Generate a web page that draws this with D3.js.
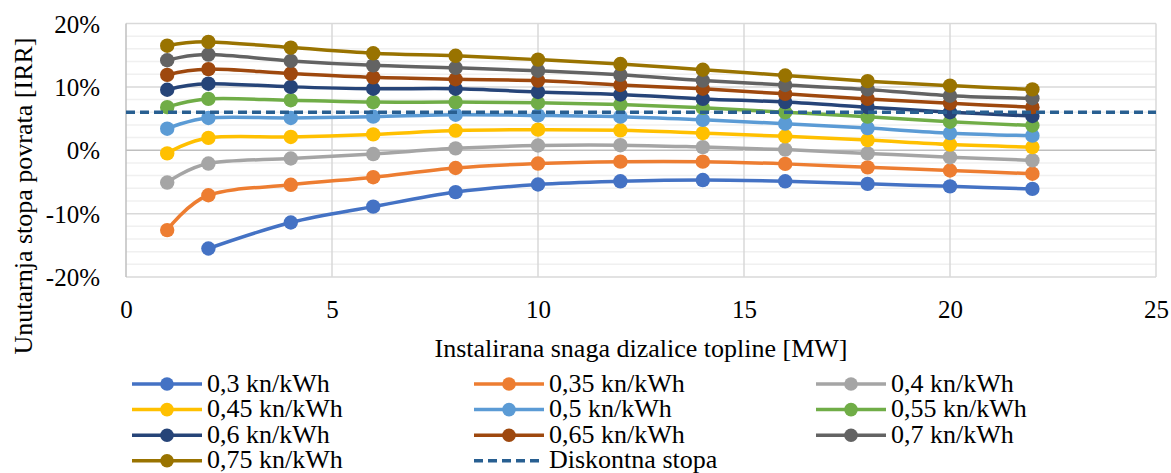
<!DOCTYPE html>
<html>
<head>
<meta charset="utf-8">
<script src="https://cdn.jsdelivr.net/npm/d3@7"></script>
<style>
  html, body { margin: 0; padding: 0; background: #fff; }
  svg { display: block; }
</style>
</head>
<body>
<svg id="chart" width="1171" height="473"></svg>
<script>
// ---- data ----
const xValues = [1, 2, 4, 6, 8, 10, 12, 14, 16, 18, 20, 22];
const seriesNames = ["0,3 kn/kWh", "0,35 kn/kWh", "0,4 kn/kWh", "0,45 kn/kWh", "0,5 kn/kWh",
                     "0,55 kn/kWh", "0,6 kn/kWh", "0,65 kn/kWh", "0,7 kn/kWh", "0,75 kn/kWh"];
const irr030 = [null, -15.5, -11.4, -8.9, -6.6, -5.4, -4.9, -4.7, -4.9, -5.3, -5.7, -6.1];
const irr035 = [-12.6, -7.1, -5.45, -4.25, -2.8, -2.1, -1.8, -1.8, -2.15, -2.7, -3.2, -3.7];
const irr040 = [-5.1, -2.1, -1.3, -0.6, 0.3, 0.75, 0.8, 0.5, 0.1, -0.5, -1.1, -1.6];
const irr045 = [-0.5, 1.95, 2.1, 2.5, 3.1, 3.25, 3.15, 2.7, 2.2, 1.6, 0.9, 0.5];
const irr050 = [3.4, 5.1, 5.1, 5.3, 5.6, 5.5, 5.3, 4.8, 4.2, 3.5, 2.7, 2.3];
const irr055 = [6.8, 8.1, 7.9, 7.6, 7.6, 7.5, 7.2, 6.7, 6.0, 5.3, 4.5, 3.9];
const irr060 = [9.55, 10.5, 10.0, 9.7, 9.7, 9.2, 8.8, 8.1, 7.6, 6.8, 6.0, 5.4];
const irr065 = [11.9, 12.8, 12.1, 11.5, 11.2, 11.0, 10.3, 9.7, 8.9, 8.1, 7.4, 6.8];
const irr070 = [14.2, 15.1, 14.1, 13.4, 13.0, 12.55, 11.9, 11.0, 10.3, 9.6, 8.6, 8.2];
const irr075 = [16.5, 17.1, 16.2, 15.3, 14.9, 14.3, 13.6, 12.7, 11.8, 10.9, 10.2, 9.6];
const seriesValues = [irr030, irr035, irr040, irr045, irr050, irr055, irr060, irr065, irr070, irr075];
const seriesColors = ["#4472C4", "#ED7D31", "#A5A5A5", "#FFC000", "#5B9BD5",
                      "#70AD47", "#264478", "#9E480E", "#636363", "#997300"];
const discountName = "Diskontna stopa";
const discountRate = 6;
const discountX = [0, 25];
const discountColor = "#285F91";
const xTicks = [0, 5, 10, 15, 20, 25];
const yTicks = [-20, -10, 0, 10, 20];
const yMinorTicks = d3.range(-20, 20.01, 2);
const xTitle = "Instalirana snaga dizalice topline [MW]";
const yTitle = "Unutarnja stopa povrata [IRR]";

const FONT = '"Liberation Serif"';

// ---- layout ----
const svg = d3.select("#chart");
const plot = { left: 126, right: 1156, top: 23.5, bottom: 277 };
const x = d3.scaleLinear().domain([0, 25]).range([plot.left, plot.right]);
const y = d3.scaleLinear().domain([-20, 20]).range([plot.bottom, plot.top]);

// minor gridlines
svg.append("g").selectAll("line").data(yMinorTicks.filter(v => v % 10 !== 0)).join("line")
  .attr("x1", plot.left).attr("x2", plot.right)
  .attr("y1", d => y(d)).attr("y2", d => y(d))
  .attr("stroke", "#F0F0F0").attr("stroke-width", 1.5);

// major horizontal gridlines
svg.append("g").selectAll("line").data(yTicks).join("line")
  .attr("x1", plot.left).attr("x2", plot.right)
  .attr("y1", d => y(d)).attr("y2", d => y(d))
  .attr("stroke", d => d === 0 ? "#BFBFBF" : "#D9D9D9").attr("stroke-width", 1.5);

// vertical gridlines
svg.append("g").selectAll("line").data(xTicks).join("line")
  .attr("x1", d => x(d)).attr("x2", d => x(d))
  .attr("y1", plot.top).attr("y2", plot.bottom)
  .attr("stroke", d => d === 0 ? "#BFBFBF" : "#D9D9D9").attr("stroke-width", 1.5);

// axes (labels only, using d3 axis)
const yAxis = d3.axisLeft(y).tickValues(yTicks).tickFormat(d => d + "%").tickSize(0).tickPadding(0);
const gy = svg.append("g").attr("transform", `translate(100,0)`).call(yAxis);
gy.attr("font-family", null).attr("font-size", null);
gy.select(".domain").remove();
gy.selectAll("text").attr("x", 0).attr("dy", "0.34em").attr("fill", "#000")
  .style("font-family", FONT).attr("font-size", 25);

const xAxis = d3.axisBottom(x).tickValues(xTicks).tickFormat(d3.format("d")).tickSize(0).tickPadding(0);
const gx = svg.append("g").attr("transform", `translate(0,${plot.bottom})`).call(xAxis);
gx.attr("font-family", null).attr("font-size", null);
gx.select(".domain").remove();
gx.selectAll("text").attr("y", 41).attr("dy", 0).attr("fill", "#000")
  .style("font-family", FONT).attr("font-size", 25);

// axis titles
svg.append("text").attr("x", (plot.left + plot.right) / 2).attr("y", 357)
  .attr("text-anchor", "middle").style("font-family", FONT).attr("font-size", 26).text(xTitle);
svg.append("text").attr("transform", "translate(32,196) rotate(-90)")
  .attr("text-anchor", "middle").style("font-family", FONT).attr("font-size", 26).text(yTitle);

// series
const line = d3.line()
  .defined(d => d.v !== null)
  .x(d => x(d.x)).y(d => y(d.v))
  .curve(d3.curveCardinal.tension(0));

const gSeries = svg.append("g");
seriesValues.forEach((vals, i) => {
  const pts = xValues.map((xv, j) => ({ x: xv, v: vals[j] }));
  const g = gSeries.append("g");
  g.append("path").datum(pts.filter(p => p.v !== null))
    .attr("d", line).attr("fill", "none")
    .attr("stroke", seriesColors[i]).attr("stroke-width", 3.5)
    .attr("stroke-linejoin", "round").attr("stroke-linecap", "round");
  g.selectAll("circle").data(pts.filter(p => p.v !== null)).join("circle")
    .attr("cx", d => x(d.x)).attr("cy", d => y(d.v)).attr("r", 7.2)
    .attr("fill", seriesColors[i]);
});

// discount rate line
svg.append("line")
  .attr("x1", x(discountX[0])).attr("x2", x(discountX[1]))
  .attr("y1", y(discountRate)).attr("y2", y(discountRate))
  .attr("stroke", discountColor).attr("stroke-width", 3.5)
  .attr("stroke-dasharray", "9,5");

// legend
const legendItems = seriesNames.map((n, i) => ({ name: n, color: seriesColors[i], dashed: false }))
  .concat([{ name: discountName, color: discountColor, dashed: true }]);
const colX = [132, 474, 816];
const rowY = [384, 409.6, 435.2, 460.8];
const lg = svg.append("g");
legendItems.forEach((it, i) => {
  const cx = colX[i % 3], cy = rowY[Math.floor(i / 3)];
  const g = lg.append("g");
  g.append("line").attr("x1", cx).attr("x2", cx + 70).attr("y1", cy).attr("y2", cy)
    .attr("stroke", it.color).attr("stroke-width", 3.5)
    .attr("stroke-dasharray", it.dashed ? "9,5" : null);
  if (!it.dashed) {
    g.append("circle").attr("cx", cx + 35).attr("cy", cy).attr("r", 6.8).attr("fill", it.color);
  }
  g.append("text").attr("x", cx + 75).attr("y", cy + 7.5).attr("fill", "#000")
    .style("font-family", FONT).attr("font-size", 26).text(it.name);
});
</script>
</body>
</html>
